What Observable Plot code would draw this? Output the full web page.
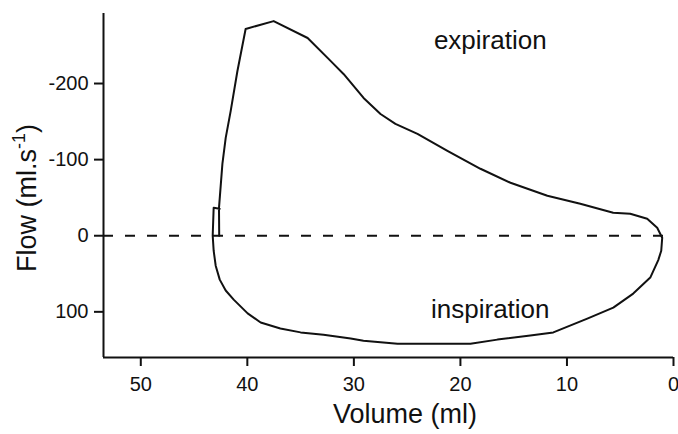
<!DOCTYPE html>
<html>
<head>
<meta charset="utf-8">
<script src="https://cdn.jsdelivr.net/npm/d3@7"></script>
<script src="https://cdn.jsdelivr.net/npm/@observablehq/plot@0.6"></script>
<style>
  html, body { margin: 0; padding: 0; background: #fff; }
  #chart { width: 678px; height: 434px; }
</style>
</head>
<body>
<div id="chart"></div>
<script>
// Flow-volume loop (expiration then inspiration), traced in order
const volume = [42.64, 42.66, 42.34, 42.03, 41.56, 40.93, 40.16, 37.53, 34.34, 32.19,
  30.97, 29.09, 27.5, 26.1, 24.03, 21.22, 18.12, 15.3, 11.84, 8.75,
  5.66, 4.06, 2.47, 1.53, 1.06, 1.15, 1.43, 2.18, 3.78, 5.65,
  8.09, 11.28, 13.44, 16.53, 19.06, 22.81, 25.9, 29.1, 30.3, 32.85,
  35.0, 36.9, 38.75, 39.97, 41.28, 42.03, 42.59, 42.97, 43.16, 43.25,
  43.16, 42.6];
const flow = [0, -36.7, -94.5, -128.6, -164, -216.5, -271.7, -282, -259.8, -229.7,
  -212.6, -181, -160, -147, -133.9, -111.5, -88, -69.6, -52.5, -42,
  -30.2, -28.9, -22.3, -10.5, 2.6, 19.7, 32, 55, 76, 94.5,
  109, 127, 131, 136.5, 142, 142, 142, 138, 135, 130,
  127, 122, 114, 102, 84, 72, 57.7, 39.4, 19.7, 0,
  -36.7, -35.4];

const xTicks = [50, 40, 30, 20, 10, 0];
const yTicks = [-200, -100, 0, 100];
const xDomain = [53.5, 0];
const yDomain = [160, -292];

const labelText = ["expiration", "inspiration"];
const labelVol = [17.2, 17.2];
const labelFlow = [-256, 97];

const points = volume.map((v, i) => ({vol: v, flow: flow[i]}));
const labels = labelText.map((t, i) => ({text: t, vol: labelVol[i], flow: labelFlow[i]}));

const ink = "#111";
const font = "'Liberation Sans', Arial, Helvetica, sans-serif";

const plot = Plot.plot({
  width: 678,
  height: 434,
  marginLeft: 103,
  marginRight: 5,
  marginTop: 13,
  marginBottom: 77,
  style: {fontFamily: font, color: ink, background: "#fff", overflow: "visible"},
  x: {domain: xDomain},
  y: {domain: yDomain},
  marks: [
    Plot.ruleY([0], {stroke: ink, strokeWidth: 2, strokeDasharray: "10,12"}),
    Plot.line(points, {x: "vol", y: "flow", stroke: ink, strokeWidth: 2, curve: "linear"}),
    Plot.text(labels, {x: "vol", y: "flow", text: "text", fontSize: 26, fill: ink, textAnchor: "middle"}),
    Plot.ruleX([xDomain[0]], {stroke: ink, strokeWidth: 2}),
    Plot.ruleY([yDomain[0]], {stroke: ink, strokeWidth: 2}),
    Plot.axisX({ticks: xTicks, tickSize: 9, tickPadding: 10, strokeWidth: 2, fontSize: 20, label: null, tickFormat: d => String(d)}),
    Plot.axisY({ticks: yTicks, tickSize: 9, tickPadding: 6, strokeWidth: 2, fontSize: 20, label: null, tickFormat: d => String(d)})
  ]
});

const svg = d3.select(plot);
// x axis title
svg.append("text")
  .attr("x", 405)
  .attr("y", 423)
  .attr("text-anchor", "middle")
  .style("font-family", font)
  .style("font-size", "27px")
  .attr("fill", ink)
  .text("Volume (ml)");
// y axis title with superscript
const yl = svg.append("text")
  .attr("transform", "translate(36,198) rotate(-90)")
  .attr("text-anchor", "middle")
  .style("font-family", font)
  .style("font-size", "27px")
  .attr("fill", ink);
yl.append("tspan").text("Flow (ml.s");
yl.append("tspan").attr("dy", -11).style("font-size", "18px").text("-1");
yl.append("tspan").attr("dy", 11).text(")");

document.getElementById("chart").appendChild(plot);
</script>
</body>
</html>
